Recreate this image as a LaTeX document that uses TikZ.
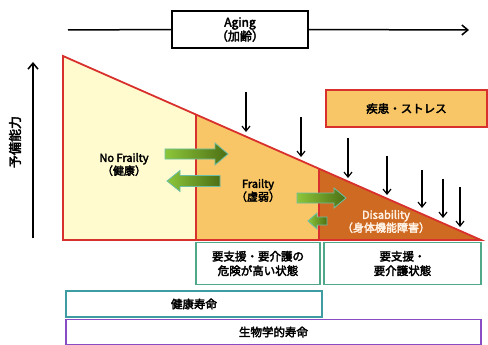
\documentclass[tikz,border=0pt]{standalone}
\usepackage{fontspec}
\setmainfont{Noto Sans CJK JP}[BoldFont=*,BoldFeatures={FakeBold=3}]
\usetikzlibrary{arrows.meta,shadings}
\definecolor{redl}{HTML}{D8302C}
\definecolor{paley}{HTML}{FFFBCF}
\definecolor{orl}{HTML}{F8C666}
\definecolor{ord}{HTML}{CF6A22}
\definecolor{grb}{HTML}{4FA888}
\definecolor{teal1}{HTML}{3E9DA3}
\definecolor{purp}{HTML}{8A4CC4}
\definecolor{gl}{HTML}{8CC63A}
\definecolor{gd}{HTML}{4D6E14}
\definecolor{gedge}{HTML}{6CBFA6}
\tikzset{
  txt/.style={font=\bfseries\fontsize{11}{13}\selectfont, align=center, inner sep=0pt},
  agtxt/.style={font=\bfseries\fontsize{12}{14}\selectfont, align=center, inner sep=0pt},
  jtxt/.style={font=\bfseries\fontsize{11.5}{14.5}\selectfont, align=center, inner sep=0pt},
  ytxt/.style={font=\bfseries\fontsize{13}{15}\selectfont, align=center, inner sep=0pt},
  downarr/.style={-{Straight Barb[length=5pt,width=8pt]}, line width=1.2pt, black},
  garr/.style={draw=gedge, line width=0.8pt, left color=gl, right color=gd},
  gbox/.style={draw=grb, line width=1.5pt},
}
\newcommand{\rarrow}[6]{% tail tip y shafthalf headhalf headlen
  \path[garr] (#1,#3-#4) -- (#2-#6,#3-#4) -- (#2-#6,#3-#5) -- (#2,#3) -- (#2-#6,#3+#5) -- (#2-#6,#3+#4) -- (#1,#3+#4) -- cycle;}
\newcommand{\larrow}[6]{% tip tail y shafthalf headhalf headlen
  \path[garr] (#2,#3-#4) -- (#1+#6,#3-#4) -- (#1+#6,#3-#5) -- (#1,#3) -- (#1+#6,#3+#5) -- (#1+#6,#3+#4) -- (#2,#3+#4) -- cycle;}
\begin{document}
\begin{tikzpicture}[x=1pt,y=-1pt]
\useasboundingbox (0,0) rectangle (488,345);
% Aging axis
\coordinate (agstart) at (68,30);
\coordinate (agend) at (469,30);
\node[draw, line width=1.5pt, minimum width=136pt, minimum height=37pt, inner sep=0pt, agtxt] (aging) at (240,29.5) {Aging\\（加齢）};
\draw[line width=1.5pt] (agstart) -- (aging.west);
\draw[line width=1.5pt, -{Straight Barb[length=6pt,width=10pt]}] (aging.east) -- (agend);
% vertical axis
\coordinate (vbot) at (33,238);
\coordinate (vtop) at (33,62);
\draw[line width=1.5pt, -{Straight Barb[length=6pt,width=10pt]}] (vbot) -- (vtop);
\node[ytxt, rotate=90] (yobi) at (15,142) {予備能力};
% regions
\fill[paley] (63,56) -- (196,114.7) -- (196,240) -- (63,240) -- cycle;
\fill[orl] (196,114.7) -- (319,169) -- (319,240) -- (196,240) -- cycle;
\fill[ord] (319,169) -- (481,240) -- (319,240) -- cycle;
\draw[redl, line width=1.8pt, line join=miter] (63,56) -- (481,240) -- (63,240) -- cycle;
\draw[redl, line width=1.8pt] (196,114.7) -- (196,240);
\draw[redl, line width=1.8pt] (319,169) -- (319,240);
% stress box
\node[draw=redl, fill=orl, line width=1.8pt, minimum width=161pt, minimum height=37pt, inner sep=0pt, jtxt] (stress) at (406.5,108.5) {疾患・ストレス};
% down arrows
\foreach \x/\a/\b in {246/92/132, 301/117/157, 348/138/178, 387/156/195, 422/170/208, 443/179/218, 460/187/227}
  \draw[downarr] (\x,\a) -- (\x,\b);
% labels
\node[txt] (nofr) at (124,164.5) {No Frailty\\（健康）};
\node[txt] (frai) at (258,190.5) {Frailty\\（虚弱）};
\node[txt, text=white!90!orange] (disa) at (386,221.5) {Disability\\（身体機能障害）};
% green arrows
\rarrow{165}{228}{154}{5}{11}{13}
\larrow{167}{220}{181}{5.5}{10.5}{13}
\rarrow{297}{346}{198}{5}{10}{12}
\larrow{308}{327}{221}{4}{8}{9}
% bottom boxes
\node[gbox, minimum width=124pt, minimum height=42pt, inner sep=0pt, jtxt] (risk) at (258,263.5) {要支援・要介護の\\危険が高い状態};
\node[gbox, minimum width=157pt, minimum height=42pt, inner sep=0pt, jtxt] (care) at (402.5,263.5) {要支援・\\要介護状態};
\node[draw=teal1, line width=1.8pt, minimum width=256pt, minimum height=26pt, inner sep=0pt, jtxt] (kenko) at (194,304) {健康寿命};
\node[draw=purp, line width=1.8pt, minimum width=415pt, minimum height=25pt, inner sep=0pt, jtxt] (seibutsu) at (273.5,332) {生物学的寿命};
\end{tikzpicture}
\end{document}
